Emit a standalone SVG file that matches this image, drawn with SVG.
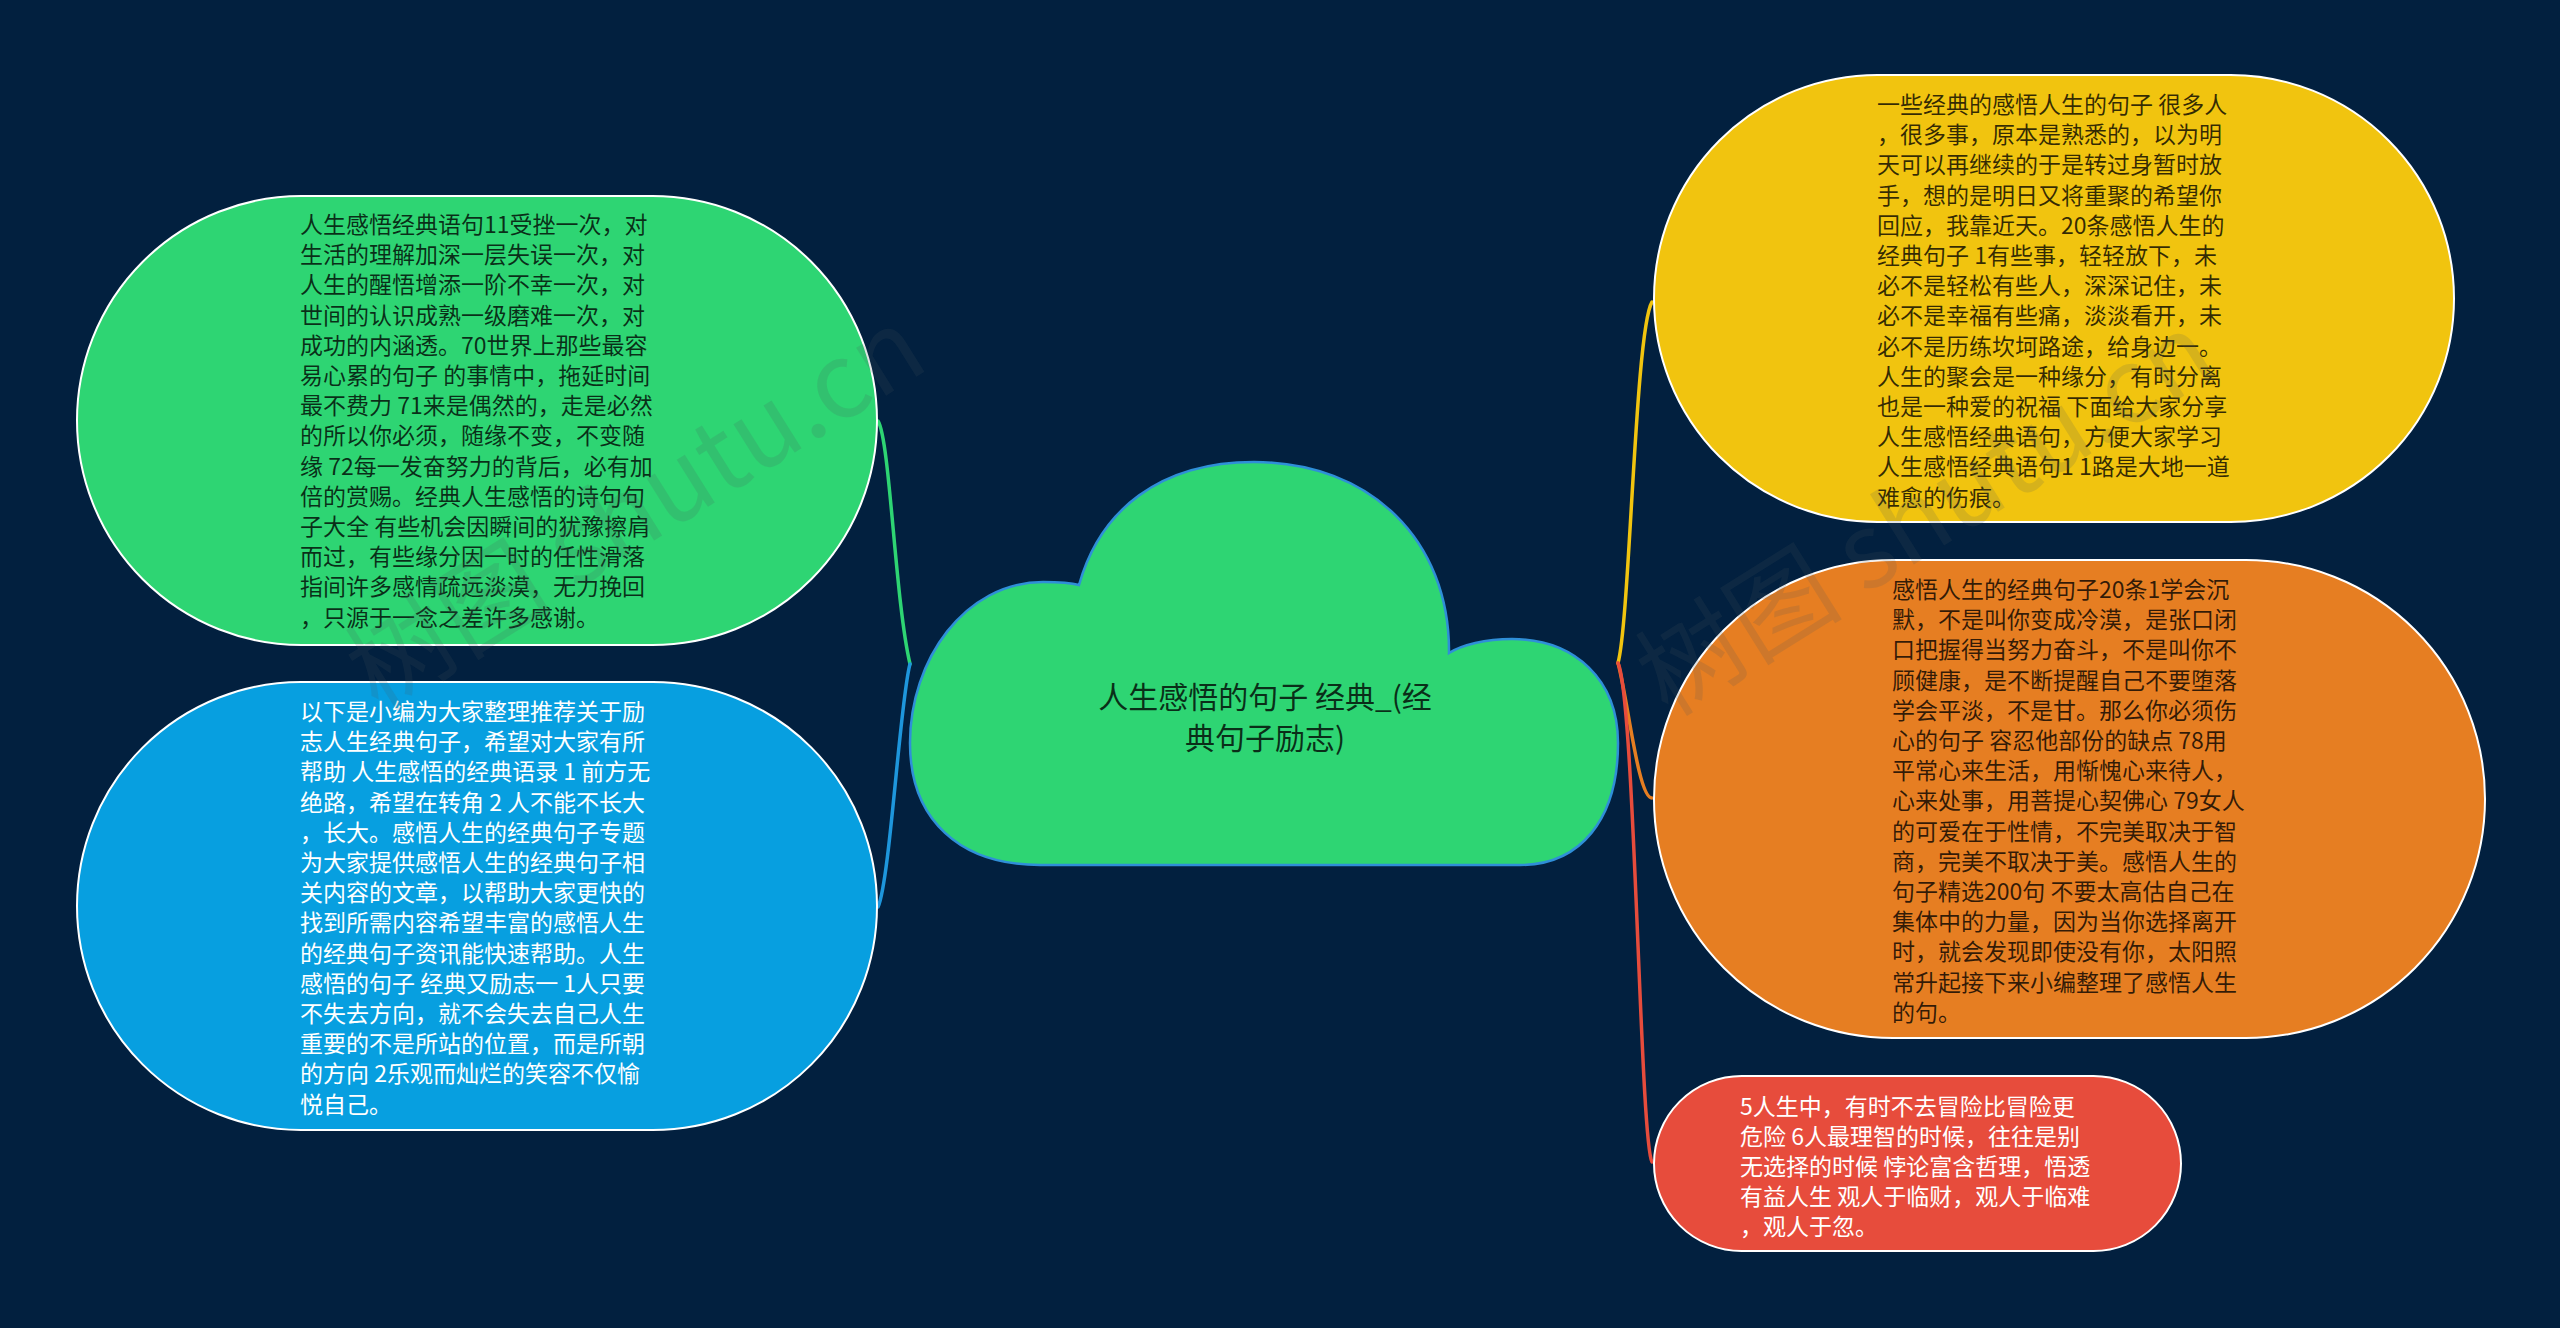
<svg xmlns="http://www.w3.org/2000/svg" width="2560" height="1328" viewBox="0 0 2560 1328">
<style>
.t{font-family:"Noto Sans CJK SC","Noto Sans",sans-serif;font-size:23px}
.dk{fill:#000;fill-opacity:.78}
.wt{fill:#fff}
.node{stroke:#fff;stroke-width:2}
.conn{fill:none;stroke-width:3.5;stroke-linecap:round}
.wm{font-family:"Noto Sans CJK SC","Noto Sans",sans-serif;font-size:104px;fill:#4a5560;fill-opacity:.16}
</style>
<rect width="2560" height="1328" fill="#02203f"/>
<g id="connectors">
<path class="conn" stroke="#2ed573" d="M910 664 C895 600 890 440 878 421"/>
<path class="conn" stroke="#1e96dc" d="M910 664 C900 700 890 880 878 907"/>
<path class="conn" stroke="#f1c40f" d="M1618 663 C1630 620 1635 330 1652 302"/>
<path class="conn" stroke="#e67e22" d="M1618 663 C1628 700 1638 798 1652 798"/>
<path class="conn" stroke="#e74c3c" d="M1618 663 C1635 700 1640 1140 1652 1162"/>
</g>
<g id="center">
<path fill="#2ed573" stroke="#2f8fd8" stroke-width="2.5" d="M1040 865 L1520 865 C1580 865 1618 820 1618 743 C1618 680 1575 639 1512 639 C1485 639 1462 645 1449 653 C1450 540 1370 462 1254 462 C1160 462 1100 510 1079 585 C1068 582 1055 582 1043 582 C965 582 910 660 910 743 C910 820 960 865 1040 865 Z"/>
<text class="dk" font-family="Noto Sans CJK SC,sans-serif" font-size="30" text-anchor="middle"><tspan x="1265" y="708">人生感悟的句子 经典_(经</tspan><tspan x="1265" y="749">典句子励志)</tspan></text>
</g>
<g id="node-left-top">
<rect class="node" x="77" y="196" width="800" height="449" rx="224.5" fill="#2ed573"/>
<text class="t dk"><tspan x="300" y="233">人生感悟经典语句11受挫一次，对</tspan><tspan x="300" dy="30.2">生活的理解加深一层失误一次，对</tspan><tspan x="300" dy="30.2">人生的醒悟增添一阶不幸一次，对</tspan><tspan x="300" dy="30.2">世间的认识成熟一级磨难一次，对</tspan><tspan x="300" dy="30.2">成功的内涵透。70世界上那些最容</tspan><tspan x="300" dy="30.2">易心累的句子 的事情中，拖延时间</tspan><tspan x="300" dy="30.2">最不费力 71来是偶然的，走是必然</tspan><tspan x="300" dy="30.2">的所以你必须，随缘不变，不变随</tspan><tspan x="300" dy="30.2">缘 72每一发奋努力的背后，必有加</tspan><tspan x="300" dy="30.2">倍的赏赐。经典人生感悟的诗句句</tspan><tspan x="300" dy="30.2">子大全 有些机会因瞬间的犹豫擦肩</tspan><tspan x="300" dy="30.2">而过，有些缘分因一时的任性滑落</tspan><tspan x="300" dy="30.2">指间许多感情疏远淡漠，无力挽回</tspan><tspan x="300" dy="30.2">，只源于一念之差许多感谢。</tspan></text>
</g>
<g id="node-left-bottom">
<rect class="node" x="77" y="682" width="800" height="448" rx="224" fill="#079fe0"/>
<text class="t wt"><tspan x="300" y="720">以下是小编为大家整理推荐关于励</tspan><tspan x="300" dy="30.2">志人生经典句子，希望对大家有所</tspan><tspan x="300" dy="30.2">帮助 人生感悟的经典语录 1 前方无</tspan><tspan x="300" dy="30.2">绝路，希望在转角 2 人不能不长大</tspan><tspan x="300" dy="30.2">，长大。感悟人生的经典句子专题</tspan><tspan x="300" dy="30.2">为大家提供感悟人生的经典句子相</tspan><tspan x="300" dy="30.2">关内容的文章，以帮助大家更快的</tspan><tspan x="300" dy="30.2">找到所需内容希望丰富的感悟人生</tspan><tspan x="300" dy="30.2">的经典句子资讯能快速帮助。人生</tspan><tspan x="300" dy="30.2">感悟的句子 经典又励志一 1人只要</tspan><tspan x="300" dy="30.2">不失去方向，就不会失去自己人生</tspan><tspan x="300" dy="30.2">重要的不是所站的位置，而是所朝</tspan><tspan x="300" dy="30.2">的方向 2乐观而灿烂的笑容不仅愉</tspan><tspan x="300" dy="30.2">悦自己。</tspan></text>
</g>
<g id="node-right-yellow">
<rect class="node" x="1654" y="75" width="800" height="447" rx="223.5" fill="#f1c40f"/>
<text class="t dk"><tspan x="1877" y="113">一些经典的感悟人生的句子 很多人</tspan><tspan x="1877" dy="30.2">，很多事，原本是熟悉的，以为明</tspan><tspan x="1877" dy="30.2">天可以再继续的于是转过身暂时放</tspan><tspan x="1877" dy="30.2">手，想的是明日又将重聚的希望你</tspan><tspan x="1877" dy="30.2">回应，我靠近天。20条感悟人生的</tspan><tspan x="1877" dy="30.2">经典句子 1有些事，轻轻放下，未</tspan><tspan x="1877" dy="30.2">必不是轻松有些人，深深记住，未</tspan><tspan x="1877" dy="30.2">必不是幸福有些痛，淡淡看开，未</tspan><tspan x="1877" dy="30.2">必不是历练坎坷路途，给身边一。</tspan><tspan x="1877" dy="30.2">人生的聚会是一种缘分，有时分离</tspan><tspan x="1877" dy="30.2">也是一种爱的祝福 下面给大家分享</tspan><tspan x="1877" dy="30.2">人生感悟经典语句，方便大家学习</tspan><tspan x="1877" dy="30.2">人生感悟经典语句1 1路是大地一道</tspan><tspan x="1877" dy="30.2">难愈的伤痕。</tspan></text>
</g>
<g id="node-right-orange">
<rect class="node" x="1654" y="560" width="831" height="478" rx="239" fill="#e67e22"/>
<text class="t dk"><tspan x="1892" y="598">感悟人生的经典句子20条1学会沉</tspan><tspan x="1892" dy="30.2">默，不是叫你变成冷漠，是张口闭</tspan><tspan x="1892" dy="30.2">口把握得当努力奋斗，不是叫你不</tspan><tspan x="1892" dy="30.2">顾健康，是不断提醒自己不要堕落</tspan><tspan x="1892" dy="30.2">学会平淡，不是甘。那么你必须伤</tspan><tspan x="1892" dy="30.2">心的句子 容忍他部份的缺点 78用</tspan><tspan x="1892" dy="30.2">平常心来生活，用惭愧心来待人，</tspan><tspan x="1892" dy="30.2">心来处事，用菩提心契佛心 79女人</tspan><tspan x="1892" dy="30.2">的可爱在于性情，不完美取决于智</tspan><tspan x="1892" dy="30.2">商，完美不取决于美。感悟人生的</tspan><tspan x="1892" dy="30.2">句子精选200句 不要太高估自己在</tspan><tspan x="1892" dy="30.2">集体中的力量，因为当你选择离开</tspan><tspan x="1892" dy="30.2">时，就会发现即使没有你，太阳照</tspan><tspan x="1892" dy="30.2">常升起接下来小编整理了感悟人生</tspan><tspan x="1892" dy="30.2">的句。</tspan></text>
</g>
<g id="node-right-red">
<rect class="node" x="1654" y="1076" width="527" height="175" rx="87.5" fill="#e74c3c"/>
<text class="t wt"><tspan x="1740" y="1115">5人生中，有时不去冒险比冒险更</tspan><tspan x="1740" dy="30">危险 6人最理智的时候，往往是别</tspan><tspan x="1740" dy="30">无选择的时候 悖论富含哲理，悟透</tspan><tspan x="1740" dy="30">有益人生 观人于临财，观人于临难</tspan><tspan x="1740" dy="30">，观人于忽。</tspan></text>
</g>
<g id="watermarks">
<text class="wm" transform="translate(655 540) rotate(-32)" text-anchor="middle">树图 shutu.cn</text>
<text class="wm" transform="translate(1945 545) rotate(-32)" text-anchor="middle">树图 shutu.cn</text>
</g>
</svg>
